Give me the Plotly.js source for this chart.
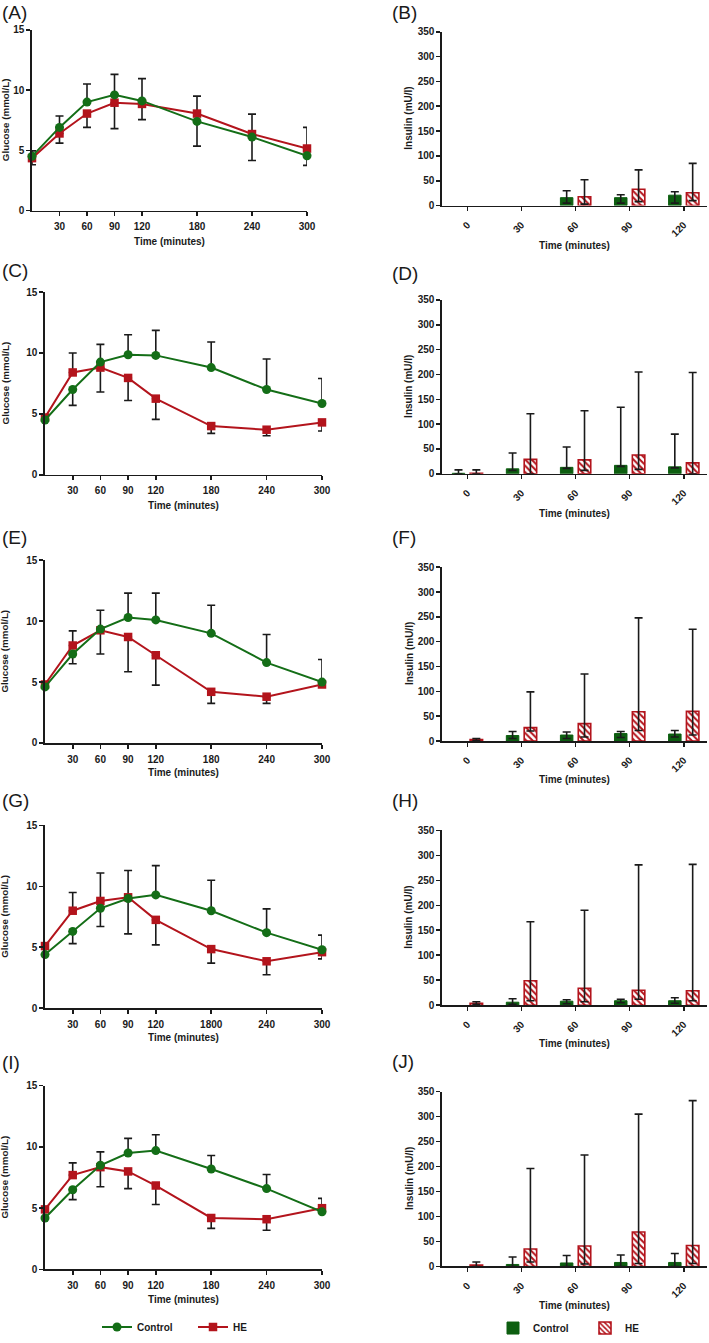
<!DOCTYPE html>
<html><head><meta charset="utf-8">
<script src="https://cdn.plot.ly/plotly-3.0.1.min.js"></script>
<style>html,body{margin:0;padding:0;background:#fff}#chart{width:709px;height:1343px}</style>
</head><body><div id="chart"></div>
<script>
// ---------------- DATA ----------------
const glucoseTimes = [0, 30, 60, 90, 120, 180, 240, 300];
const glucoseTickVals = [30, 60, 90, 120, 180, 240, 300];
const glucoseTickText = ['30', '60', '90', '120', '180', '240', '300'];
const glucoseTickTextG = ['30', '60', '90', '120', '1800', '240', '300'];
const glucoseYTicks = [0, 5, 10, 15];
const insulinTimes = ['0', '30', '60', '90', '120'];
const insulinYTicks = [0, 50, 100, 150, 200, 250, 300, 350];
const panelLabels = ['(A)', '(B)', '(C)', '(D)', '(E)', '(F)', '(G)', '(H)', '(I)', '(J)'];
const seriesNames = ['Control', 'HE'];
const glucoseTitle = 'Glucose (mmol/L)';
const insulinTitle = 'Insulin (mU/l)';
const timeTitle = 'Time (minutes)';

// Panel A glucose
const ctrlA = [4.5, 6.9, 9.0, 9.6, 9.1, 7.4, 6.1, 4.55];
const ctrlAplus = [0.45, 0.95, 1.5, 1.7, 1.85, 0, 0, 0];
const ctrlAminus = [0, 0, 0, 0, 0, 2.05, 1.95, 0.8];
const heA = [4.35, 6.4, 8.05, 8.95, 8.85, 8.05, 6.35, 5.15];
const heAplus = [0, 0, 0, 0, 0, 1.45, 1.65, 1.75];
const heAminus = [0.55, 0.8, 1.15, 2.15, 1.3, 0, 0, 0];
// Panel C glucose
const ctrlC = [4.5, 7.0, 9.25, 9.85, 9.8, 8.8, 7.0, 5.85];
const ctrlCplus = [0, 0, 1.45, 1.65, 2.05, 2.1, 2.5, 2.05];
const ctrlCminus = [0, 1.3, 0, 0, 0, 0, 0, 0];
const heC = [4.7, 8.4, 8.8, 7.95, 6.25, 4.0, 3.7, 4.3];
const heCplus = [0, 1.6, 0, 0, 0, 0, 0, 0];
const heCminus = [0, 0, 2.0, 1.85, 1.7, 0.6, 0.5, 0.7];
// Panel E glucose
const ctrlE = [4.6, 7.3, 9.35, 10.3, 10.1, 9.0, 6.6, 5.0];
const ctrlEplus = [0, 0, 1.55, 2.0, 2.2, 2.3, 2.3, 1.85];
const ctrlEminus = [0, 0.8, 0, 0, 0, 0, 0, 0];
const heE = [4.8, 8.0, 9.25, 8.7, 7.2, 4.2, 3.8, 4.8];
const heEplus = [0, 1.2, 0, 0, 0, 0, 0, 0];
const heEminus = [0, 0, 1.95, 2.85, 2.45, 0.95, 0.55, 0];
// Panel G glucose
const ctrlG = [4.4, 6.3, 8.2, 9.0, 9.3, 8.0, 6.2, 4.8];
const ctrlGplus = [0, 0, 0, 0, 2.4, 2.5, 1.95, 1.2];
const ctrlGminus = [0, 1.0, 1.5, 2.9, 0, 0, 0, 0];
const heG = [5.1, 8.0, 8.8, 9.1, 7.25, 4.85, 3.85, 4.6];
const heGplus = [0, 1.5, 2.3, 2.2, 0, 0, 0, 0];
const heGminus = [0, 0, 0, 0, 2.05, 1.15, 1.1, 0.55];
// Panel I glucose
const ctrlI = [4.2, 6.5, 8.5, 9.5, 9.7, 8.2, 6.6, 4.7];
const ctrlIplus = [0, 0, 1.1, 1.2, 1.3, 1.1, 1.15, 0];
const ctrlIminus = [0, 0.8, 0, 0, 0, 0, 0, 0];
const heI = [4.9, 7.7, 8.35, 8.0, 6.85, 4.2, 4.1, 5.0];
const heIplus = [0, 1.0, 0, 0, 0, 0, 0, 0.8];
const heIminus = [0, 0, 1.6, 1.4, 1.55, 0.85, 0.9, 0];

// Panel B insulin
const ctrlB = [null, null, 16, 16, 21];
const ctrlBplus = [0, 0, 14, 6, 7];
const ctrlBminus = [0, 0, 11, 11, 16];
const heB = [null, null, 18, 33, 26];
const heBplus = [0, 0, 34, 39, 59];
const heBminus = [0, 0, 15, 25, 16];
// Panel D insulin
const ctrlD = [1, 10, 13, 17, 14];
const ctrlDplus = [7, 32, 41, 117, 66];
const ctrlDminus = [1, 3, 2, 2, 2];
const heD = [1, 29, 28, 38, 22];
const heDplus = [7, 92, 99, 167, 182];
const heDminus = [1, 29, 21, 29, 22];
// Panel F insulin
const ctrlF = [null, 11, 12, 15, 14];
const ctrlFplus = [0, 8, 6, 4, 7];
const ctrlFminus = [0, 6, 7, 8, 6];
const heF = [3, 27, 35, 59, 60];
const heFplus = [2, 72, 100, 189, 165];
const heFminus = [2, 7, 27, 38, 48];
// Panel H insulin
const ctrlH = [null, 6, 8, 9, 9];
const ctrlHplus = [0, 7, 3, 3, 6];
const ctrlHminus = [0, 4, 5, 4, 5];
const heH = [4, 49, 34, 30, 29];
const heHplus = [3, 118, 156, 251, 253];
const heHminus = [2, 40, 27, 18, 20];
// Panel J insulin
const ctrlJ = [null, 4, 7, 8, 8];
const ctrlJplus = [0, 15, 15, 15, 18];
const ctrlJminus = [0, 4, 7, 8, 8];
const heJ = [3, 35, 41, 69, 42];
const heJplus = [6, 161, 182, 236, 290];
const heJminus = [3, 26, 36, 63, 36];

// ---------------- STYLE / GEOMETRY ----------------
const W = 709, H = 1343;
const FONT = 'Liberation Sans, Arial, Helvetica, sans-serif';
const GREEN = '#146e17';
const GREEN_BAR = '#0d5e10';
const RED = '#b3141c';
const AX = '#1a1a1a';
const fx = v => v / W;
const fy = v => 1 - v / H;

const leftGeo = [
  {xd: [32, 307], yd: [30, 212], lab: 12.5, tt: 243},
  {xd: [45, 322], yd: [294, 478], lab: 272, tt: 509},
  {xd: [45, 322], yd: [564, 748], lab: 541, tt: 778},
  {xd: [45, 322], yd: [831, 1015], lab: 806, tt: 1044},
  {xd: [45, 322], yd: [1093, 1278], lab: 1070, tt: 1308}
];
const rightGeo = [
  {xd: [442, 707], yd: [32, 207], lab: 12.5, tt: 247},
  {xd: [442, 707], yd: [302, 477], lab: 275, tt: 517},
  {xd: [442, 707], yd: [571, 746], lab: 541, tt: 785},
  {xd: [442, 707], yd: [836, 1012], lab: 806, tt: 1051},
  {xd: [442, 707], yd: [1099, 1275], lab: 1069, tt: 1314}
];

const glucoseSets = [
  [ctrlA, ctrlAplus, ctrlAminus, heA, heAplus, heAminus],
  [ctrlC, ctrlCplus, ctrlCminus, heC, heCplus, heCminus],
  [ctrlE, ctrlEplus, ctrlEminus, heE, heEplus, heEminus],
  [ctrlG, ctrlGplus, ctrlGminus, heG, heGplus, heGminus],
  [ctrlI, ctrlIplus, ctrlIminus, heI, heIplus, heIminus]
];
const insulinSets = [
  [ctrlB, ctrlBplus, ctrlBminus, heB, heBplus, heBminus],
  [ctrlD, ctrlDplus, ctrlDminus, heD, heDplus, heDminus],
  [ctrlF, ctrlFplus, ctrlFminus, heF, heFplus, heFminus],
  [ctrlH, ctrlHplus, ctrlHminus, heH, heHplus, heHminus],
  [ctrlJ, ctrlJplus, ctrlJminus, heJ, heJplus, heJminus]
];

const tickFont = {family: FONT, size: 10, color: AX, weight: 'bold'};
const titleFont = {family: FONT, size: 10, weight: 'bold', color: AX};
const labelFont = {family: FONT, size: 19, color: AX};
const traces = [];
const layout = {
  width: W, height: H,
  margin: {l: 0, r: 0, t: 0, b: 0},
  paper_bgcolor: '#fff', plot_bgcolor: '#fff',
  showlegend: true,
  barmode: 'group', bargap: 0.34, bargroupgap: 0.3,
  font: {family: FONT, color: AX},
  annotations: [],
  legend: {orientation: 'h', x: fx(97), xanchor: 'left', y: fy(1336), yanchor: 'middle',
           font: {family: FONT, size: 10, weight: 'bold', color: AX}, entrywidth: 51, bgcolor: 'rgba(0,0,0,0)'},
  legend2: {orientation: 'h', x: fx(493), xanchor: 'left', y: fy(1337), yanchor: 'middle',
           font: {family: FONT, size: 10, weight: 'bold', color: AX}, entrywidth: 47, bgcolor: 'rgba(0,0,0,0)'}
};

function axisBase() {
  return {showline: true, linecolor: AX, linewidth: 1.6, ticks: 'outside', ticklen: 4, tickwidth: 1.6,
          tickcolor: AX, showgrid: false, zeroline: false, tickfont: tickFont, fixedrange: true};
}

for (let i = 0; i < 5; i++) {
  const li = 2 * i + 1, ri = 2 * i + 2;
  const lg = leftGeo[i], rg = rightGeo[i];
  const lx = 'x' + (li === 1 ? '' : li), ly = 'y' + (li === 1 ? '' : li);
  const rx = 'x' + ri, ry = 'y' + ri;

  layout['xaxis' + (li === 1 ? '' : li)] = Object.assign(axisBase(), {
    domain: [fx(lg.xd[0]), fx(lg.xd[1])], range: [0, 300], anchor: ly, ticklabelstandoff: 2,
    tickmode: 'array', tickvals: glucoseTickVals, ticktext: i === 3 ? glucoseTickTextG : glucoseTickText
  });
  layout['yaxis' + (li === 1 ? '' : li)] = Object.assign(axisBase(), {
    domain: [fy(lg.yd[1]), fy(lg.yd[0])], range: [0, 15], anchor: lx,
    tickmode: 'array', tickvals: glucoseYTicks
  });
  layout['xaxis' + ri] = Object.assign(axisBase(), {
    domain: [fx(rg.xd[0]), fx(rg.xd[1])], type: 'category', range: [-0.47, 4.43], anchor: ry,
    tickangle: -45, categoryorder: 'array', categoryarray: insulinTimes, ticklabelstandoff: 4
  });
  layout['yaxis' + ri] = Object.assign(axisBase(), {
    domain: [fy(rg.yd[1]), fy(rg.yd[0])], range: [0, 350], anchor: rx,
    tickmode: 'array', tickvals: insulinYTicks
  });

  const g = glucoseSets[i];
  traces.push({
    type: 'scatter', mode: 'lines+markers', x: glucoseTimes, y: g[3], xaxis: lx, yaxis: ly,
    name: seriesNames[1], legendgroup: 'he', showlegend: i === 0, legend: 'legend', legendrank: 2,
    line: {color: RED, width: 2}, marker: {symbol: 'square', size: 8.5, color: RED},
    error_y: {type: 'data', symmetric: false, array: g[4], arrayminus: g[5], color: AX, thickness: 1.6, width: 4},
    cliponaxis: false, hoverinfo: 'skip'
  });
  traces.push({
    type: 'scatter', mode: 'lines+markers', x: glucoseTimes, y: g[0], xaxis: lx, yaxis: ly,
    name: seriesNames[0], legendgroup: 'ctrl', showlegend: i === 0, legend: 'legend', legendrank: 1,
    line: {color: GREEN, width: 2}, marker: {symbol: 'circle', size: 9, color: GREEN},
    error_y: {type: 'data', symmetric: false, array: g[1], arrayminus: g[2], color: AX, thickness: 1.6, width: 4},
    cliponaxis: false, hoverinfo: 'skip'
  });

  const s = insulinSets[i];
  traces.push({
    type: 'bar', x: insulinTimes, y: s[0], xaxis: rx, yaxis: ry,
    name: seriesNames[0], legendgroup: 'ctrlb', showlegend: i === 0, legend: 'legend2',
    marker: {color: GREEN_BAR, line: {color: GREEN_BAR, width: 1}},
    error_y: {type: 'data', symmetric: false, array: s[1], arrayminus: s[2], color: AX, thickness: 1.6, width: 4},
    cliponaxis: false, hoverinfo: 'skip'
  });
  traces.push({
    type: 'bar', x: insulinTimes, y: s[3], xaxis: rx, yaxis: ry,
    name: seriesNames[1], legendgroup: 'heb', showlegend: i === 0, legend: 'legend2',
    marker: {color: '#ffffff', line: {color: RED, width: 1.6},
             pattern: {shape: '\\', fgcolor: RED, bgcolor: '#ffffff', size: 4.5, solidity: 0.45}},
    error_y: {type: 'data', symmetric: false, array: s[4], arrayminus: s[5], color: AX, thickness: 1.6, width: 4},
    cliponaxis: false, hoverinfo: 'skip'
  });

  layout.annotations.push({text: panelLabels[li - 1], xref: 'paper', yref: 'paper', x: fx(0), y: fy(lg.lab),
    xanchor: 'left', yanchor: 'middle', showarrow: false, font: labelFont});
  layout.annotations.push({text: panelLabels[ri - 1], xref: 'paper', yref: 'paper', x: fx(390), y: fy(rg.lab),
    xanchor: 'left', yanchor: 'middle', showarrow: false, font: labelFont});
  layout.annotations.push({text: glucoseTitle, xref: 'paper', yref: 'paper', x: fx(5), y: fy((lg.yd[0] + lg.yd[1]) / 2),
    textangle: -90, xanchor: 'center', yanchor: 'middle', showarrow: false, font: {family: FONT, size: 9.8, weight: 'bold', color: AX}});
  layout.annotations.push({text: insulinTitle, xref: 'paper', yref: 'paper', x: fx(409), y: fy((rg.yd[0] + rg.yd[1]) / 2),
    textangle: -90, xanchor: 'center', yanchor: 'middle', showarrow: false, font: titleFont});
  layout.annotations.push({text: timeTitle, xref: 'paper', yref: 'paper', x: fx((lg.xd[0] + lg.xd[1]) / 2), y: fy(lg.tt),
    xanchor: 'center', yanchor: 'middle', showarrow: false, font: titleFont});
  layout.annotations.push({text: timeTitle, xref: 'paper', yref: 'paper', x: fx((rg.xd[0] + rg.xd[1]) / 2), y: fy(rg.tt),
    xanchor: 'center', yanchor: 'middle', showarrow: false, font: titleFont});
}

Plotly.newPlot('chart', traces, layout, {displayModeBar: false, staticPlot: true});
</script>
</body></html>
